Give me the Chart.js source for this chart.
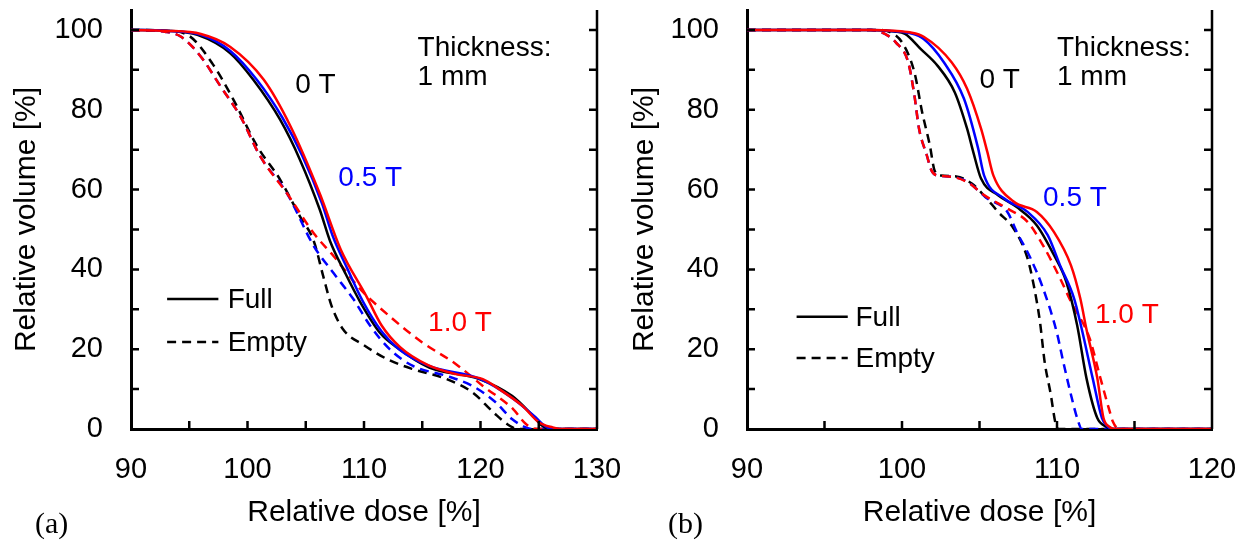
<!DOCTYPE html>
<html>
<head>
<meta charset="utf-8">
<script src="https://cdn.jsdelivr.net/npm/chart.js@4"></script>
<style>
  html, body { margin: 0; padding: 0; background: #fff; }
  #wrap { position: relative; width: 1252px; height: 547px; overflow: hidden; }
  canvas { position: absolute; top: 0; }
  .tag { position: absolute; top: 506px; font-family: "Liberation Serif", serif; font-size: 30px; color: #000; }
</style>
</head>
<body>
<div id="wrap">
  <canvas id="chartA" width="640" height="547" style="left:0"></canvas>
  <canvas id="chartB" width="634" height="547" style="left:618px"></canvas>
  <div class="tag" style="left:35px">(a)</div>
  <div class="tag" style="left:668px">(b)</div>
</div>
<script>
// ---- panel (a): x 90..130 ----
const aXTicks = [90, 100, 110, 120, 130];
const aXMinor = [95, 100, 105, 110, 115, 120, 125];

const aFull0Dose = [90, 93, 95.7, 98.5, 100.5, 102.8, 104.5, 106.2, 107.1, 108.4, 109.7, 111.4, 112.8, 115.6, 119.9, 122.7, 124.5, 125.3, 126, 130];
const aFull0Vol  = [100, 99.8, 98.75, 94.2, 87.5, 77.5, 67.5, 55, 47, 39, 31.7, 24, 20.5, 15.4, 12.5, 8.3, 3.3, 0.8, 0, 0];
const aFull05Dose = [90, 93, 96, 98.5, 100.8, 103, 104.7, 106.4, 107.3, 108.6, 109.9, 111.5, 113, 115.6, 120, 122.8, 124.7, 125.5, 126.2, 130];
const aFull05Vol  = [100, 99.8, 98.8, 94.8, 87.5, 78, 68.5, 56.5, 48.5, 40, 32, 24.5, 20, 15.8, 12.5, 7.6, 3, 0.8, 0, 0];
const aFull10Dose = [90, 93, 96, 98.5, 101.4, 103.7, 106.2, 108, 110.2, 111.5, 113.1, 115.5, 117.9, 120.2, 121.6, 123.6, 125, 126.2, 127, 130];
const aFull10Vol  = [100, 99.8, 99, 95.8, 87.5, 75.8, 59, 45, 33.3, 26, 20.5, 16, 13.75, 12.5, 10, 5.8, 1.7, 0.4, 0, 0];
const aEmpty0Dose = [90, 93, 95, 97, 98.8, 100.8, 102.8, 104.5, 105.7, 106.5, 107.2, 108.2, 110, 112, 114.2, 117.1, 119.3, 121.1, 122.5, 123.2, 130];
const aEmpty0Vol  = [100, 99.8, 98.5, 91.5, 82.5, 71, 62.5, 53.3, 47, 38.3, 31, 25, 21, 17.5, 15, 12.5, 9.2, 4.2, 0.8, 0, 0];
const aEmpty05Dose = [90, 93, 94.3, 96, 97.7, 99.4, 101.1, 103.4, 105.7, 107.4, 109.1, 110.5, 112.2, 114.2, 117.1, 119.3, 121.3, 122.7, 123.9, 124.5, 130];
const aEmpty05Vol  = [100, 99.5, 98.3, 93.3, 85.8, 78.3, 68.3, 59, 45.8, 39, 32.5, 26, 20, 15.8, 13.3, 10.8, 6.7, 2.5, 0.4, 0, 0];
const aEmpty10Dose = [90, 93, 94.3, 96, 97.7, 99.4, 101.1, 103.4, 105.7, 107.4, 109.7, 112.5, 115, 117.9, 120.2, 122.8, 123.9, 124.8, 130];
const aEmpty10Vol  = [100, 99.5, 98.3, 93.3, 85.8, 78.3, 68.3, 59, 49, 43.3, 35, 27.5, 21.7, 16.25, 10.8, 5, 1.25, 0, 0];

// ---- panel (b): x 90..120 ----
const bXTicks = [90, 100, 110, 120];
const bXMinor = [95, 100, 105, 110, 115];

const bFull0Dose = [90, 98, 99.5, 100.2, 101.2, 102.3, 103.4, 104.2, 104.6, 105.1, 106.2, 107.4, 108.7, 109.8, 110.6, 111.3, 111.9, 112.6, 113.2, 113.5, 120];
const bFull0Vol  = [100, 100, 99.6, 99, 95.25, 91, 84.4, 75.25, 69.4, 62.75, 58.6, 55.6, 51, 43.6, 36.9, 26, 12.75, 2.75, 0.5, 0, 0];
const bFull05Dose = [90, 98, 99.5, 100.5, 101.4, 102.7, 104, 104.9, 105.3, 106.6, 108.1, 109.4, 110.2, 111.1, 111.6, 112.3, 112.9, 113.3, 113.6, 120];
const bFull05Vol  = [100, 100, 99.7, 99.2, 97.75, 91.9, 82.75, 70.5, 63.5, 57.75, 54.4, 48.6, 41, 32.75, 25, 12.75, 2.75, 0.5, 0, 0];
const bFull10Dose = [90, 98, 99.5, 100.5, 101.4, 103.2, 104.2, 105.1, 105.5, 105.9, 107.2, 108.7, 109.8, 110.9, 111.5, 111.9, 112.6, 113, 113.4, 113.7, 120];
const bFull10Vol  = [100, 100, 99.8, 99.4, 98.3, 91.9, 85.25, 75.25, 69.5, 63.5, 57, 54.4, 49.4, 41, 32.75, 25, 12.75, 2.75, 0.5, 0, 0];
const bEmpty0Dose = [90, 98.5, 99.2, 100, 100.8, 101.3, 101.8, 102.1, 102.5, 103.5, 104.5, 105.3, 106.2, 107.2, 108.1, 108.5, 108.9, 109.2, 109.6, 109.9, 110.1, 120];
const bEmpty0Vol  = [100, 100, 99.5, 96.9, 89.4, 79.4, 71, 64.8, 63.5, 63.3, 61.5, 58.5, 54.4, 50.25, 42.75, 36, 26.9, 16.9, 8.6, 1.5, 0, 0];
const bEmpty05Dose = [90, 98, 98.9, 99.6, 100.4, 100.8, 101.1, 101.6, 101.9, 102.3, 103, 104.2, 105.5, 106.8, 107.4, 108.3, 109.1, 110, 110.4, 110.9, 111.3, 111.6, 120];
const bEmpty05Vol  = [100, 100, 99, 96.9, 91.9, 83.6, 75.25, 68.6, 64.8, 63.5, 63.3, 62, 57.75, 54.4, 49.4, 42.75, 35.25, 24, 16.9, 8.6, 2.75, 0, 0];
const bEmpty10Dose = [90, 98, 98.9, 99.6, 100.4, 100.8, 101.1, 101.6, 101.9, 102.3, 103, 104.2, 105.3, 106.8, 108.1, 109.1, 110.2, 110.9, 112.1, 112.8, 113.4, 113.6, 114, 120];
const bEmpty10Vol  = [100, 100, 99, 96.9, 91.9, 83.6, 75.25, 68.6, 64.8, 63.5, 63.3, 61.9, 58.6, 55.25, 51.9, 46, 37.75, 31.9, 22.75, 12.75, 4.4, 1.9, 0, 0];

const yTicks = [0, 20, 40, 60, 80, 100];
const yMinor = [10, 20, 30, 40, 50, 60, 70, 80, 90, 100];

const FONT = '"Liberation Sans", Arial, sans-serif';
const BLACK = '#000000', BLUE = '#0000ff', RED = '#ff0000';

function pts(xs, ys) {
  return xs.map((v, i) => ({ x: v, y: ys[i] }));
}

function series(xs, ys, color, dashed) {
  return {
    data: pts(xs, ys),
    showLine: true,
    borderColor: color,
    borderWidth: 2.5,
    borderDash: dashed ? [9, 6] : [],
    pointRadius: 0,
    cubicInterpolationMode: 'monotone',
    fill: false
  };
}

// frame, inward ticks, legend and text notes
function decorPlugin(p) {
  return {
    id: 'decor',
    afterDatasetsDraw(chart) {
      const { ctx, chartArea: a, scales: { x, y } } = chart;
      ctx.save();
      ctx.strokeStyle = BLACK;
      ctx.lineWidth = 2.5;
      ctx.beginPath();
      ctx.moveTo(a.right, a.top);
      ctx.lineTo(a.right, a.bottom);
      p.xMinor.forEach(v => {
        const px = x.getPixelForValue(v);
        ctx.moveTo(px, a.bottom);
        ctx.lineTo(px, a.bottom - 8);
      });
      yMinor.forEach(v => {
        const py = y.getPixelForValue(v);
        ctx.moveTo(a.left, py);
        ctx.lineTo(a.left + 8, py);
        ctx.moveTo(a.right, py);
        ctx.lineTo(a.right - 8, py);
      });
      ctx.stroke();

      // legend
      ctx.font = '28px ' + FONT;
      ctx.textBaseline = 'middle';
      ctx.fillStyle = BLACK;
      const lg = p.legend;
      [['Full', lg.yFull, []], ['Empty', lg.yEmpty, [9, 6]]].forEach(([txt, yv, dash]) => {
        const py = y.getPixelForValue(yv);
        ctx.beginPath();
        ctx.setLineDash(dash);
        ctx.lineWidth = 2.5;
        ctx.moveTo(x.getPixelForValue(lg.x0), py);
        ctx.lineTo(x.getPixelForValue(lg.x1), py);
        ctx.stroke();
        ctx.setLineDash([]);
        ctx.fillText(txt, x.getPixelForValue(lg.xt), py + 1);
      });

      p.notes.forEach(n => {
        ctx.fillStyle = n.color;
        ctx.fillText(n.text, x.getPixelForValue(n.x), y.getPixelForValue(n.y));
      });
      ctx.restore();
    }
  };
}

function makeChart(id, p) {
  new Chart(document.getElementById(id), {
    type: 'scatter',
    data: { datasets: p.datasets },
    options: {
      responsive: false,
      animation: false,
      devicePixelRatio: 1,
      layout: { padding: { top: 10, right: p.padRight, left: 0, bottom: 0 } },
      plugins: { legend: { display: false }, tooltip: { enabled: false } },
      scales: {
        x: {
          type: 'linear', min: p.xMin, max: p.xMax,
          afterBuildTicks: s => { s.ticks = p.xTicks.map(v => ({ value: v })); },
          afterFit: s => { s.height = 118; s.paddingLeft = 0; s.paddingRight = 0; },
          grid: { display: false, drawTicks: false },
          border: { display: true, color: BLACK, width: 3 },
          ticks: { color: BLACK, font: { family: FONT, size: 29 }, padding: 24, maxRotation: 0 },
          title: { display: true, text: 'Relative dose [%]', color: BLACK,
                   font: { family: FONT, size: 30 }, padding: { top: 0, bottom: 16 } }
        },
        y: {
          type: 'linear', min: 0, max: 105,
          afterBuildTicks: s => { s.ticks = yTicks.map(v => ({ value: v })); },
          afterFit: s => { s.width = p.yWidth; s.paddingTop = 0; s.paddingBottom = 0; },
          grid: { display: false, drawTicks: false },
          border: { display: true, color: BLACK, width: 3 },
          ticks: { color: BLACK, font: { family: FONT, size: 29 }, padding: 28 },
          title: { display: true, text: 'Relative volume [%]', color: BLACK,
                   font: { family: FONT, size: 30 }, padding: { top: 9, bottom: 0 } }
        }
      }
    },
    plugins: [decorPlugin(p)]
  });
}

makeChart('chartA', {
  xMin: 90, xMax: 130, xTicks: aXTicks, xMinor: aXMinor,
  yWidth: 131, padRight: 43,
  datasets: [
    series(aFull10Dose, aFull10Vol, RED, false),
    series(aFull05Dose, aFull05Vol, BLUE, false),
    series(aFull0Dose, aFull0Vol, BLACK, false),
    series(aEmpty10Dose, aEmpty10Vol, RED, true),
    series(aEmpty05Dose, aEmpty05Vol, BLUE, true),
    series(aEmpty0Dose, aEmpty0Vol, BLACK, true)
  ],
  legend: { x0: 93.1, x1: 97.5, xt: 98.3, yFull: 32.6, yEmpty: 21.8 },
  notes: [
    { text: 'Thickness:', x: 114.6, y: 95.5, color: BLACK },
    { text: '1 mm', x: 114.6, y: 88.2, color: BLACK },
    { text: '0 T', x: 104.1, y: 86.2, color: BLACK },
    { text: '0.5 T', x: 107.8, y: 62.9, color: BLUE },
    { text: '1.0 T', x: 115.5, y: 26.6, color: RED }
  ]
});

makeChart('chartB', {
  xMin: 90, xMax: 120, xTicks: bXTicks, xMinor: bXMinor,
  yWidth: 129, padRight: 40,
  datasets: [
    series(bFull10Dose, bFull10Vol, RED, false),
    series(bFull05Dose, bFull05Vol, BLUE, false),
    series(bFull0Dose, bFull0Vol, BLACK, false),
    series(bEmpty10Dose, bEmpty10Vol, RED, true),
    series(bEmpty05Dose, bEmpty05Vol, BLUE, true),
    series(bEmpty0Dose, bEmpty0Vol, BLACK, true)
  ],
  legend: { x0: 93.2, x1: 96.5, xt: 97.0, yFull: 28.1, yEmpty: 17.8 },
  notes: [
    { text: 'Thickness:', x: 110.0, y: 95.5, color: BLACK },
    { text: '1 mm', x: 110.0, y: 88.2, color: BLACK },
    { text: '0 T', x: 105.0, y: 87.5, color: BLACK },
    { text: '0.5 T', x: 109.1, y: 57.9, color: BLUE },
    { text: '1.0 T', x: 112.45, y: 28.6, color: RED }
  ]
});
</script>
</body>
</html>
